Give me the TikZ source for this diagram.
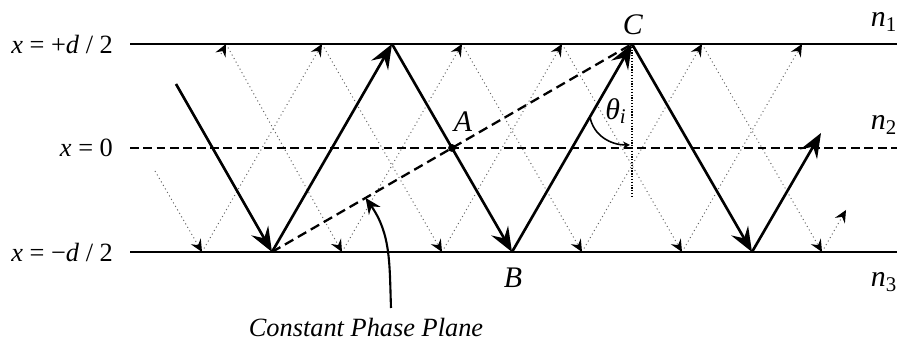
\documentclass[tikz,border=0pt]{standalone}
\usepackage{fontspec}
\setmainfont{Liberation Serif}
\usetikzlibrary{arrows.meta, calc, positioning}
\tikzset{
  % bordi della guida
  slab/.style={line width=1.1pt},
  midplane/.style={line width=1.1pt, dash pattern=on 5pt off 2.6pt},
  % raggio principale
  ray/.style={line width=1.5pt, -{Stealth[length=14pt, width=11pt, inset=5pt]}},
  % raggi secondari
  ghost/.style={line width=0.55pt, black!60, dash pattern=on 0.6pt off 1.7pt,
    -{Stealth[length=7pt, width=6.5pt, inset=2.5pt, color=black]}},
  % piano a fase costante
  phase/.style={line width=1.3pt, dash pattern=on 5.5pt off 3pt},
  normalline/.style={line width=1.2pt, dash pattern=on 0.7pt off 0.9pt},
  % etichette
  lbl/.style={font=\fontsize{15}{18}\selectfont, inner sep=1pt},
  biglbl/.style={font=\fontsize{17}{20}\selectfont, inner sep=1pt},
}

\begin{document}
\begin{tikzpicture}[x=0.02cm, y=0.02cm]
  \useasboundingbox (0,0) rectangle (897,351);
  % bordi e piano centrale
  \coordinate (tl) at (130,307); \coordinate (tr) at (897,307);
  \coordinate (ml) at (130,203); \coordinate (mr) at (897,203);
  \coordinate (bl) at (130,99);  \coordinate (br) at (897,99);
  \node[lbl, anchor=east] (xtop) at (115,307) {\textit{x} = +\textit{d} / 2};
  \node[lbl, anchor=east] (xmid) at (115,203) {\textit{x} = 0};
  \node[lbl, anchor=east] (xbot) at (115,99) {\textit{x} = −\textit{d} / 2};
  \node[biglbl] (n1) at (884,329) {\textit{n}\textsubscript{1}};
  \node[biglbl] (n2) at (884,226) {\textit{n}\textsubscript{2}};
  \node[biglbl] (n3) at (884,69) {\textit{n}\textsubscript{3}};

  % raggi secondari
  \coordinate (p0) at (155,180);
  \foreach \i/\x in {1/202,3/442,5/682} \coordinate (p\i) at (\x,99);
  \foreach \i/\x in {2/322,4/562,6/802} \coordinate (p\i) at (\x,307);
  \foreach \a/\b in {0/1,1/2,2/3,3/4,4/5,5/6} \draw[ghost] (p\a) -- (p\b);
  \coordinate (q0) at (221,297);
  \foreach \i/\x in {1/226,3/462,5/702} \coordinate (q\i) at (\x,307);
  \foreach \i/\x in {2/342,4/582,6/822} \coordinate (q\i) at (\x,99);
  \coordinate (q7) at (846,141);
  \foreach \a/\b in {0/1,1/2,2/3,3/4,4/5,5/6,6/7} \draw[ghost] (q\a) -- (q\b);

  \draw[slab] (tl) -- (tr);
  \draw[slab] (bl) -- (br);
  \draw[midplane] (ml) -- (mr);

  % raggio principale
  \coordinate (s0) at (176,267);
  \coordinate (s1) at (272,99);
  \coordinate (s2) at (392,307);
  \coordinate (B) at (512,99);
  \coordinate (C) at (632,307);
  \coordinate (s5) at (752,99);
  \coordinate (s6) at (821,218);
  \draw[ray] (s0) -- (s1);
  \draw[ray] (s1) -- (s2);
  \draw[ray] (s2) -- (B);
  \draw[ray] (B) -- (C);
  \draw[ray] (C) -- (s5);
  \draw[ray] (s5) -- (s6);

  % piano a fase costante
  \draw[phase] (s1) -- (C);
  \node[circle, fill, inner sep=0pt, minimum size=4.5pt] (A) at (452,203) {};
  \node[biglbl] (labA) at (463,229) {\textit{A}};
  \node[biglbl] (labB) at (513,73) {\textit{B}};
  \node[biglbl] (labC) at (633,326) {\textit{C}};

  % normale e angolo
  \coordinate (foot) at (632,153);
  \draw[normalline] (C) -- (foot);
  \coordinate (arcbeg) at ($(C)!0.35!(B)$);
  \coordinate (arcend) at (630,206);
  \draw[line width=0.9pt, -{Stealth[length=4pt, width=4pt]}]
    (arcbeg) to[out=-80, in=180] (arcend);
  \node[biglbl] (theta) at (616,240) {\textit{θ}\textsubscript{\textit{i}}};

  % didascalia
  \node[lbl] (cpp) at (366,24) {\textit{Constant Phase Plane}};
  \coordinate (cpptail) at (391,43);
  \coordinate (cpphead) at ($(s1)!0.26!(C)$);
  \draw[line width=1.2pt, -{Stealth[length=9pt, width=8pt, inset=3pt]}]
    (cpptail) to[out=92, in=-55] (cpphead);
\end{tikzpicture}
\end{document}
